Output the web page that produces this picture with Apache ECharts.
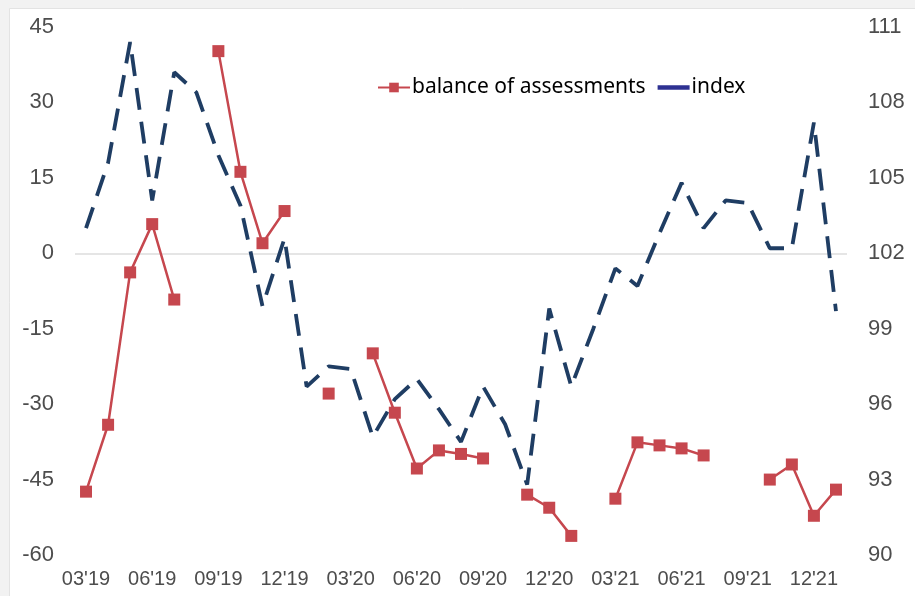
<!DOCTYPE html>
<html>
<head>
<meta charset="utf-8">
<script src="https://cdn.jsdelivr.net/npm/echarts@6/dist/echarts.min.js"></script>
<style>
html,body{margin:0;padding:0;background:#f2f2f2;}
#chart{width:915px;height:596px;}
</style>
</head>
<body>
<div id="chart"></div>
<script>
const categories = ["03'19","04'19","05'19","06'19","07'19","08'19","09'19","10'19","11'19","12'19",
  "01'20","02'20","03'20","04'20","05'20","06'20","07'20","08'20","09'20","10'20","11'20","12'20",
  "01'21","02'21","03'21","04'21","05'21","06'21","07'21","08'21","09'21","10'21","11'21","12'21","01'22"];
const balance = [-47.4,-34.1,-3.8,5.8,-9.2,null,40.2,16.2,2.0,8.4,
  null,-27.9,null,-19.9,-31.7,-42.8,-39.2,-39.9,-40.8,null,-48.0,-50.6,
  -56.2,null,-48.8,-37.6,-38.2,-38.8,-40.2,null,null,-45.0,-42.0,-52.2,-47.0];
const indexValues = [103.0,105.6,110.4,104.1,109.2,108.4,105.9,103.9,99.9,102.6,
  96.7,97.5,97.4,94.7,96.2,97.0,95.8,94.5,96.7,95.2,92.8,99.8,
  96.7,99.0,101.4,100.7,102.8,104.8,103.0,104.1,104.0,102.2,102.2,107.2,99.7];
const leftTicks = {min:-60, max:45, interval:15};
const rightTicks = {min:90, max:111, interval:3};

const RED = '#c6474e';
const BLUE = '#1f3d63';

const chart = echarts.init(document.getElementById('chart'));
chart.setOption({
  backgroundColor: '#f2f2f2',
  animation: false,
  graphic: [{
    type: 'rect', left: 9, top: 8, z: -10,
    shape: {width: 915, height: 596},
    style: {fill: '#ffffff', stroke: '#e3e3e3', lineWidth: 1}
  }],
  grid: {left: 75, right: 68, top: 27, bottom: 41},
  legend: {
    left: 372, top: 72,
    itemWidth: 32, itemHeight: 12, itemGap: 12,
    textStyle: {fontFamily: 'Noto Sans', fontSize: 21, color: '#000', padding: [0, 0, 0, -3]},
    data: [
      {name: 'balance of assessments'},
      {name: 'index', icon: 'path://M0,0 L22,0 L22,3 L0,3 Z', itemStyle: {color: '#2e3192'}}
    ]
  },
  xAxis: {
    type: 'category', data: categories, boundaryGap: true,
    axisLine: {show: false}, axisTick: {show: false},
    axisLabel: {interval: 2, margin: 14, color: '#4d4d4d', fontFamily: 'Liberation Sans', fontSize: 20}
  },
  yAxis: [{
    type: 'value', min: leftTicks.min, max: leftTicks.max, interval: leftTicks.interval,
    axisLine: {show: false}, axisTick: {show: false}, splitLine: {show: false},
    axisLabel: {margin: 21, color: '#4d4d4d', fontFamily: 'Liberation Sans', fontSize: 22}
  }, {
    type: 'value', min: rightTicks.min, max: rightTicks.max, interval: rightTicks.interval,
    position: 'right',
    axisLine: {show: false}, axisTick: {show: false}, splitLine: {show: false},
    axisLabel: {margin: 21, color: '#4d4d4d', fontFamily: 'Liberation Sans', fontSize: 22}
  }],
  series: [{
    name: 'balance of assessments', type: 'line', yAxisIndex: 0,
    data: balance, connectNulls: false,
    symbol: 'rect', symbolSize: 12,
    itemStyle: {color: RED},
    lineStyle: {color: RED, width: 2.5},
    z: 3,
    markLine: {
      silent: true, symbol: 'none', label: {show: false},
      lineStyle: {color: '#dcdcdc', width: 1.5, type: 'solid'},
      data: [{yAxis: 0}], z: 1
    }
  }, {
    name: 'index', type: 'line', yAxisIndex: 1,
    data: indexValues, symbol: 'none',
    itemStyle: {color: BLUE},
    lineStyle: {color: BLUE, width: 3.8, type: [22, 12], cap: 'butt'},
    z: 2
  }]
});
</script>
</body>
</html>
